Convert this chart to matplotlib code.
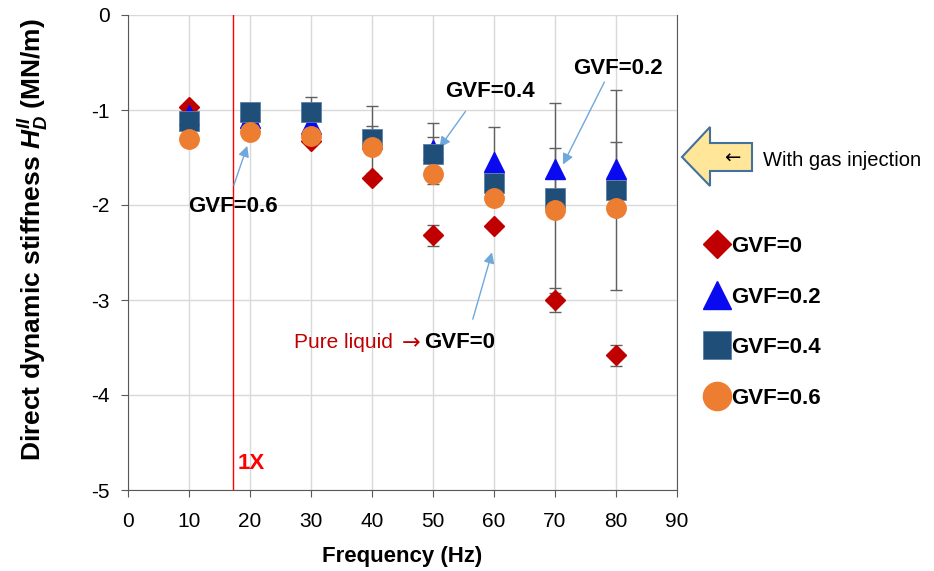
import matplotlib.pyplot as plt
from matplotlib.patches import Polygon

plt.rcParams['font.family'] = ['Liberation Sans', 'DejaVu Sans']
plt.rcParams['axes.unicode_minus'] = False
plt.rcParams['mathtext.fontset'] = 'custom'
plt.rcParams['mathtext.it'] = 'Liberation Sans:italic:bold'
plt.rcParams['mathtext.rm'] = 'Liberation Sans:bold'

# Data
freq = [10, 20, 30, 40, 50, 60, 70, 80]
gvf0 = [-0.97, -1.10, -1.33, -1.72, -2.32, -2.22, -3.00, -3.58]
gvf0_err = [0.04, 0.04, 0.04, 0.04, 0.11, 0.04, 0.13, 0.11]
gvf02 = [-1.05, -1.08, -1.15, -1.30, -1.42, -1.55, -1.62, -1.62]
gvf02_err = [0.05, 0.05, 0.05, 0.13, 0.14, 0.37, 0.22, 0.28]
gvf04 = [-1.12, -1.02, -1.02, -1.31, -1.46, -1.77, -1.93, -1.84]
gvf04_err = [0.05, 0.05, 0.16, 0.35, 0.32, 0.10, 1.00, 1.05]
gvf06 = [-1.31, -1.23, -1.27, -1.39, -1.67, -1.93, -2.05, -2.03]
one_x = 17.2

W, H = 934, 571
fig = plt.figure(figsize=(W / 100, H / 100), dpi=100)
ax = fig.add_axes([128 / W, 1 - 490 / H, 549 / W, 475 / H])

ax.errorbar(freq, gvf0, yerr=gvf0_err, fmt='none', ecolor='#606060', elinewidth=1, capsize=4, zorder=2)
ax.errorbar(freq, gvf02, yerr=gvf02_err, fmt='none', ecolor='#606060', elinewidth=1, capsize=4, zorder=2)
ax.errorbar(freq, gvf04, yerr=gvf04_err, fmt='none', ecolor='#606060', elinewidth=1, capsize=4, zorder=2)

h0, = ax.plot(freq, gvf0, 'D', color='#C00000', ms=10, ls='none', zorder=3, label='GVF=0')
h2, = ax.plot(freq, gvf02, '^', color='#0A0AF0', ms=14, ls='none', zorder=4, label='GVF=0.2')
h4, = ax.plot(freq, gvf04, 's', color='#1F4E79', mec='#5B7FA6', mew=0.6, ms=14, ls='none', zorder=5, label='GVF=0.4')
h6, = ax.plot(freq, gvf06, 'o', color='#ED7D31', ms=14, ls='none', zorder=6, label='GVF=0.6')

ax.axvline(one_x, color='#FF0000', lw=1, zorder=2)

ax.set_xlim(0, 90)
ax.set_ylim(-5, 0)
ax.set_xticks(range(0, 91, 10))
ax.set_yticks(range(-5, 1))
ax.grid(True, color='#D9D9D9', lw=1)
ax.set_axisbelow(True)
ax.spines['top'].set_visible(False)
for s in ['left', 'bottom', 'right']:
    ax.spines[s].set_color('#595959')
ax.tick_params(labelsize=15, length=5, color='#595959')
ax.tick_params(axis='x', pad=11)
ax.tick_params(axis='y', pad=8)

ax.set_xlabel('Frequency (Hz)', fontsize=16, fontweight='bold')
ax.set_ylabel(r'Direct dynamic stiffness $H_D^{II}$ (MN/m)', fontsize=19, fontweight='bold')
ax.xaxis.set_label_coords(0.5, -0.118)
ax.yaxis.set_label_coords(-0.14, 0.527)

# annotations
bold = dict(fontsize=16, fontweight='bold')
arrow = dict(arrowstyle='-|>', color='#6FA8DC', lw=1, mutation_scale=16)
ax.text(17.9, -4.72, '1X', color='#FF0000', va='center', ha='left', **bold)
ax.annotate('', xy=(19.7, -1.35), xytext=(17.2, -1.82), arrowprops=arrow)
ax.text(17.2, -2.02, 'GVF=0.6', ha='center', va='center', **bold)
ax.annotate('', xy=(50.8, -1.42), xytext=(55.6, -0.99), arrowprops=arrow)
ax.text(59.3, -0.81, 'GVF=0.4', ha='center', va='center', **bold)
ax.annotate('', xy=(71.1, -1.6), xytext=(78.3, -0.68), arrowprops=arrow)
ax.text(80.3, -0.56, 'GVF=0.2', ha='center', va='center', **bold)
ax.annotate('', xy=(59.8, -2.47), xytext=(56.4, -3.23), arrowprops=arrow)
ax.text(43.5, -3.45, 'Pure liquid', color='#C00000', fontsize=15, ha='right', va='center')
ax.text(46.4, -3.46, '\u2192', color='#C00000', fontsize=16, ha='center', va='center',
        family='DejaVu Sans')
ax.text(48.6, -3.45, 'GVF=0', ha='left', va='center', **bold)

# block arrow "with gas injection"
pts = [(682, 157), (710, 127), (710, 143), (752, 143), (752, 171), (710, 171), (710, 186)]
fig.patches.append(Polygon([(x / W, 1 - y / H) for x, y in pts], closed=True,
                           facecolor='#FFE699', edgecolor='#41719C', lw=1.5,
                           transform=fig.transFigure, figure=fig))
fig.text(732 / W, 1 - 158 / H, '\u2190', fontsize=14, ha='center', va='center', family='DejaVu Sans')
fig.text(763 / W, 1 - 160 / H, 'With gas injection', fontsize=14.5, ha='left', va='center')

fig.legend(handles=[h0, h2, h4, h6], loc='upper left', bbox_to_anchor=(686 / W, 1 - 216 / H),
           frameon=False, markerscale=1.45, handlelength=1.0, handletextpad=0.15,
           labelspacing=1.33, numpoints=1, prop=dict(size=16, weight='bold'))

fig.savefig('out.png', dpi=100)
